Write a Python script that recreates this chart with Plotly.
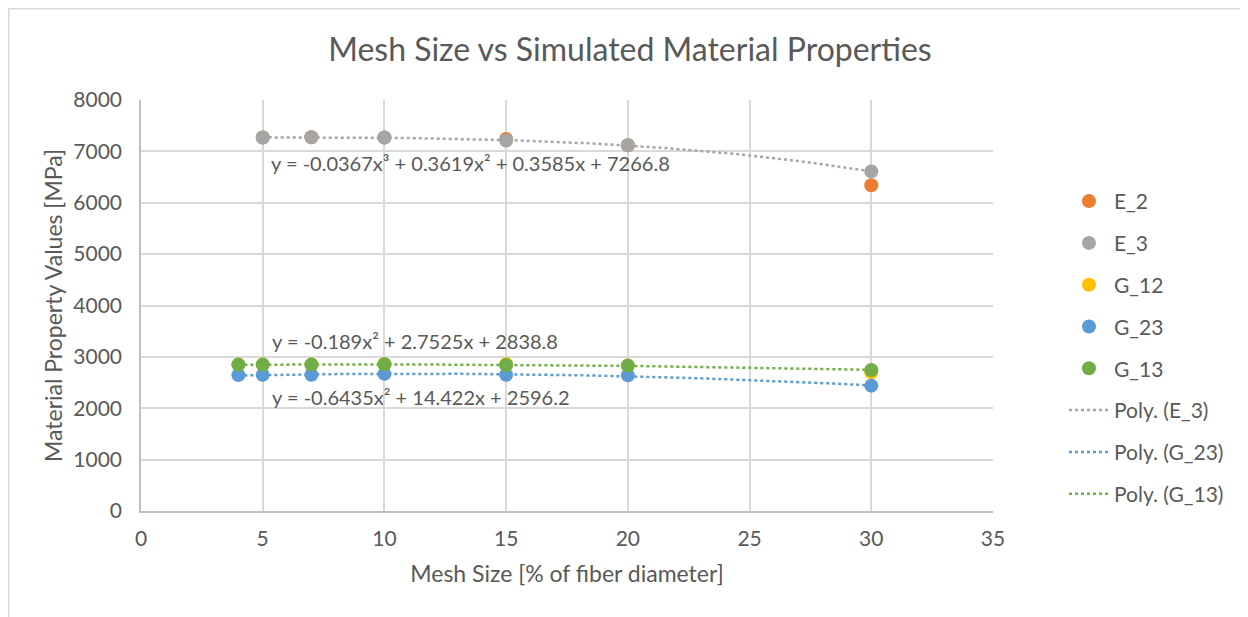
import numpy as np
import plotly.graph_objects as go

# ---- data ----
mesh_E = [5, 7, 10, 15, 20, 30]
E_2 = [7270, 7275, 7270, 7240, 7120, 6340]
E_3 = [7270, 7275, 7270, 7210, 7120, 6610]

mesh_G = [4, 5, 7, 10, 15, 20, 30]
G_12 = [2850, 2850, 2850, 2855, 2860, 2830, 2700]
G_23 = [2645, 2650, 2650, 2670, 2650, 2640, 2440]
G_13 = [2850, 2850, 2850, 2855, 2840, 2830, 2745]

x_ticks = [0, 5, 10, 15, 20, 25, 30, 35]
y_ticks = [0, 1000, 2000, 3000, 4000, 5000, 6000, 7000, 8000]

eq_E3 = "y = -0.0367x³ + 0.3619x² + 0.3585x + 7266.8"
eq_G13 = "y = -0.189x² + 2.7525x + 2838.8"
eq_G23 = "y = -0.6435x² + 14.422x + 2596.2"

FONT = "Lato"
TXT = "#595959"

fig = go.Figure()

def trend(xs, ys, order):
    c = np.polyfit(xs, ys, order)
    xx = np.linspace(min(xs), max(xs), 120)
    return xx, np.polyval(c, xx)

series = [
    ("E_2", mesh_E, E_2, "#ED7D31"),
    ("E_3", mesh_E, E_3, "#A5A5A5"),
    ("G_12", mesh_G, G_12, "#FFC000"),
    ("G_23", mesh_G, G_23, "#5B9BD5"),
    ("G_13", mesh_G, G_13, "#70AD47"),
]

trends = [
    ("Poly. (E_3)", mesh_E, E_3, 3, "#A5A5A5"),
    ("Poly. (G_23)", mesh_G, G_23, 2, "#5B9BD5"),
    ("Poly. (G_13)", mesh_G, G_13, 2, "#70AD47"),
]
for i, (name, xs, ys, order, col) in enumerate(trends):
    xx, yy = trend(xs, ys, order)
    fig.add_trace(go.Scatter(x=xx, y=yy, mode="lines", name=name,
                             line=dict(color=col, width=2.5, dash="dot"),
                             legendgroup=name, legendrank=10 + i))

for i, (name, xs, ys, col) in enumerate(series):
    fig.add_trace(go.Scatter(x=xs, y=ys, mode="markers", name=name,
                             marker=dict(color=col, size=14),
                             legendgroup=name, legendrank=1 + i))

W, H = 1240, 609
L, T = 133, 92
PW, PH = 852, 411

fig.update_layout(
    width=W, height=H,
    paper_bgcolor="white", plot_bgcolor="white",
    margin=dict(l=L, r=W - L - PW, t=T, b=H - T - PH),
    title=dict(text="Mesh Size vs Simulated Material Properties",
               x=0.5016, xanchor="center", y=1 - 42 / H, yanchor="middle",
               font=dict(family=FONT, size=32, color=TXT)),
    font=dict(family=FONT, color=TXT),
    showlegend=True,
    legend=dict(x=1.0833, xanchor="left", y=0.803, yanchor="top",
                font=dict(family=FONT, size=21, color=TXT),
                tracegroupgap=11.5, itemwidth=40,
                bgcolor="rgba(0,0,0,0)"),
    xaxis=dict(range=[0, 35], tickvals=x_ticks, showgrid=True,
               gridcolor="#D9D9D9", gridwidth=1.5,
               showline=True, linecolor="#BFBFBF", linewidth=1.5,
               zeroline=False, ticks="outside", ticklen=8, tickcolor="rgba(0,0,0,0)",
               tickfont=dict(family=FONT, size=21, color=TXT),
               title=dict(text="Mesh Size [% of fiber diameter]", standoff=17,
                          font=dict(family=FONT, size=23, color=TXT))),
    yaxis=dict(range=[0, 8000], tickvals=y_ticks, showgrid=True,
               gridcolor="#D9D9D9", gridwidth=1.5,
               showline=True, linecolor="#BFBFBF", linewidth=1.5,
               zeroline=False, ticks="outside", ticklen=13, tickcolor="rgba(0,0,0,0)",
               tickfont=dict(family=FONT, size=21, color=TXT),
               title=dict(text="Material Property Values [MPa]", standoff=4,
                          font=dict(family=FONT, size=23, color=TXT))),
)

for text, xa, ya in [(eq_E3, 5.25, 6770), (eq_G13, 5.3, 3310), (eq_G23, 5.3, 2220)]:
    fig.add_annotation(x=xa, y=ya, xref="x", yref="y", text=text,
                       showarrow=False, xanchor="left", yanchor="middle",
                       font=dict(family=FONT, size=20, color=TXT))

# outer frame lines (left and top) of the chart object
x_edge = (0.5 - L) / PW
y_edge = 1 + (T - 0.5) / PH
fig.add_shape(type="line", xref="paper", yref="paper",
              x0=x_edge, x1=x_edge, y0=y_edge, y1=-(H - T - PH) / PH - 0.01,
              line=dict(color="#D9D9D9", width=2))
fig.add_shape(type="line", xref="paper", yref="paper",
              x0=x_edge, x1=(W - L) / PW + 0.01, y0=y_edge, y1=y_edge,
              line=dict(color="#D9D9D9", width=2))

fig.write_html("out.html")
